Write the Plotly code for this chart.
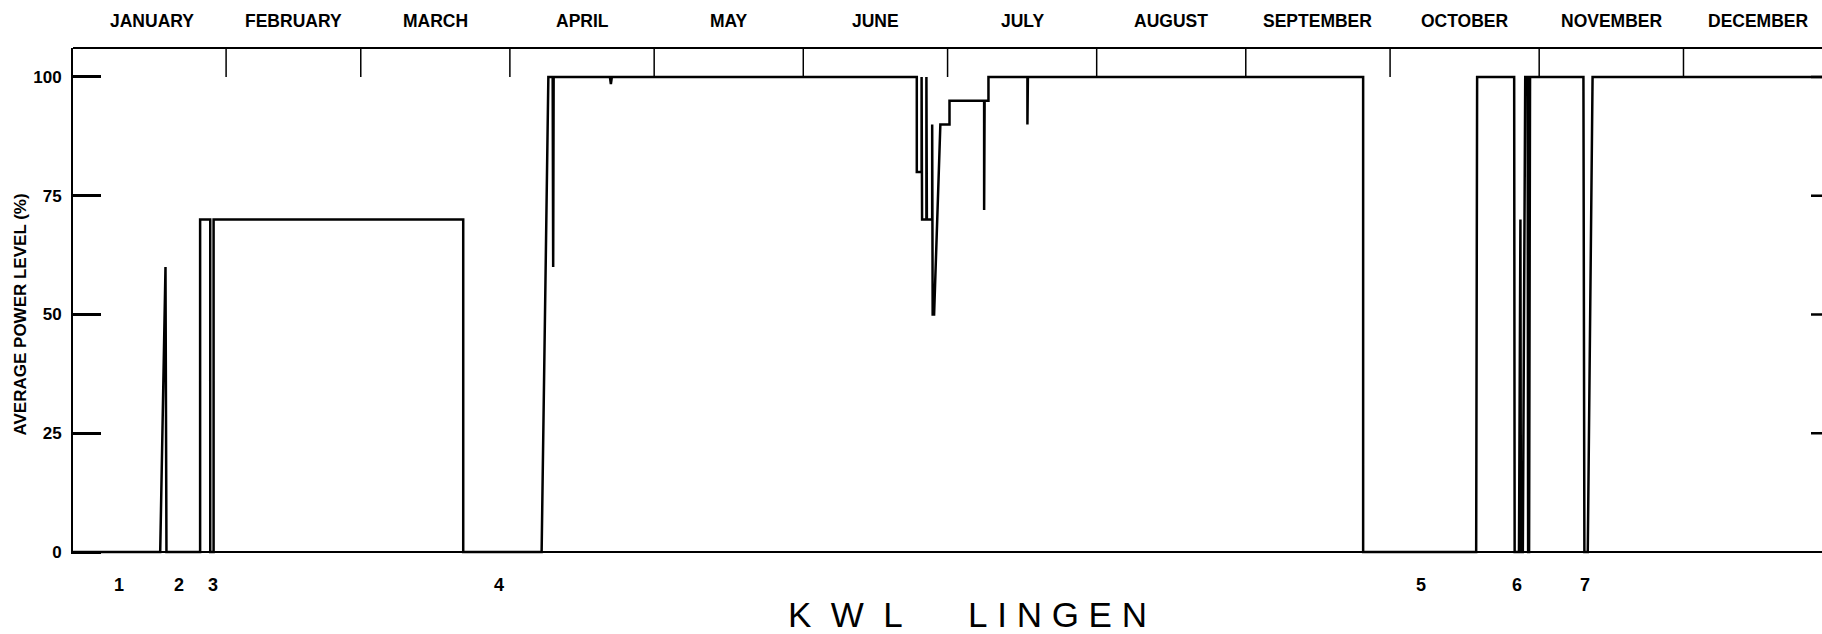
import plotly.graph_objects as go

# Monthly calendar (day-of-year at which each month begins)
month_names = ["JANUARY", "FEBRUARY", "MARCH", "APRIL", "MAY", "JUNE", "JULY",
               "AUGUST", "SEPTEMBER", "OCTOBER", "NOVEMBER", "DECEMBER"]
month_starts = [0, 31, 59, 90, 120, 151, 181, 212, 243, 273, 304, 334, 365]

# Average power level (%) against day of year, as break points of the trace
days = [-0.8, 17.3, 18.4, 18.6, 25.6, 25.6, 27.7, 27.7, 28.4, 28.4, 80.3, 80.3,
        96.6, 98.0, 98.9, 99.0, 99.1, 110.8, 111.0, 111.2,
        174.6, 174.6, 175.6, 175.6, 175.7, 176.6, 176.6, 176.7, 177.8, 177.8,
        177.9, 178.2, 179.5, 181.4, 181.4, 188.6, 188.6, 188.7, 189.5, 189.5,
        197.6, 197.6, 197.7, 267.4, 267.4, 290.9, 291.1,
        298.8, 298.9, 299.8, 300.1, 300.2, 300.6, 301.1, 301.6, 301.7, 301.9, 302.1,
        313.2, 313.4, 314.1, 315.1, 365.0]
power = [0, 0, 60, 0, 0, 70, 70, 0, 0, 70, 70, 0,
         0, 100, 100, 60, 100, 100, 98.5, 100,
         100, 80, 80, 100, 70, 70, 100, 70, 70, 90,
         50, 50, 90, 90, 95, 95, 72, 95, 95, 100,
         100, 90, 100, 100, 0, 0, 100,
         100, 0, 0, 70, 0, 0, 100, 100, 0, 0, 100,
         100, 0, 0, 100, 100]

# Numbered outage events marked below the time axis
event_labels = ["1", "2", "3", "4", "5", "6", "7"]
event_days = [8.7, 21.2, 28.2, 87.8, 279.4, 299.4, 313.5]

y_ticks = [0, 25, 50, 75, 100]

X_RANGE = [-0.83, 362.8]
Y_RANGE = [-0.42, 106.1]
FONT = "Liberation Sans, Arial, sans-serif"
PLOT_W = 1822 - 73

fig = go.Figure()
fig.add_trace(go.Scatter(x=days, y=power, mode="lines",
                         line=dict(color="black", width=2.5),
                         hoverinfo="skip", showlegend=False))

shapes = []
# frame: top edge and zero line
shapes.append(dict(type="line", xref="paper", yref="paper", x0=0, x1=1, y0=1, y1=1,
                   line=dict(color="black", width=2)))
shapes.append(dict(type="line", xref="paper", yref="y", x0=0, x1=1, y0=0, y1=0,
                   line=dict(color="black", width=2)))
# month boundary marks hanging from the top edge
for d in month_starts[1:-1]:
    shapes.append(dict(type="line", xref="x", yref="y", x0=d, x1=d, y0=100, y1=Y_RANGE[1],
                       line=dict(color="black", width=1.5)))
# inward ticks on the right-hand scale
for v in y_ticks[1:]:
    shapes.append(dict(type="line", xref="paper", yref="y", x0=1 - 11 / PLOT_W, x1=1,
                       y0=v, y1=v, line=dict(color="black", width=2.5)))

annotations = []
for i, name in enumerate(month_names):
    mid = (month_starts[i] + month_starts[i + 1]) / 2
    annotations.append(dict(text=name, x=mid, xref="x", y=1, yref="paper", yshift=27,
                            yanchor="middle", showarrow=False,
                            font=dict(family=FONT, size=17.5, color="black", weight="bold")))
for lab, d in zip(event_labels, event_days):
    annotations.append(dict(text=lab, x=d, xref="x", y=0, yref="paper", yshift=-31,
                            yanchor="middle", showarrow=False,
                            font=dict(family=FONT, size=18, color="black", weight="bold")))
annotations.append(dict(text="AVERAGE POWER LEVEL (%)", x=0, xref="paper", xshift=-53,
                        y=50, yref="y", textangle=-90, showarrow=False,
                        xanchor="center", yanchor="middle",
                        font=dict(family=FONT, size=17, color="black", weight="bold")))
annotations.append(dict(text="K\u00a0\u00a0W\u00a0\u00a0L", x=(845 - 73) / PLOT_W, xref="paper",
                        y=0, yref="paper", yshift=-60, yanchor="middle", showarrow=False,
                        font=dict(family=FONT, size=35, color="black")))
annotations.append(dict(text="L\u00a0I\u00a0N\u00a0G\u00a0E\u00a0N", x=(1057 - 73) / PLOT_W,
                        xref="paper", y=0, yref="paper", yshift=-60, yanchor="middle",
                        showarrow=False, font=dict(family=FONT, size=35, color="black")))

fig.update_layout(
    width=1822, height=634,
    margin=dict(l=73, r=0, t=48, b=80, pad=0),
    paper_bgcolor="white", plot_bgcolor="white",
    shapes=shapes, annotations=annotations,
    xaxis=dict(range=X_RANGE, showgrid=False, zeroline=False, showline=False,
               showticklabels=False, ticks=""),
    yaxis=dict(range=Y_RANGE, showgrid=False, zeroline=False, showline=True,
               linecolor="black", linewidth=2, ticks="inside", ticklen=28,
               tickwidth=2.5, tickcolor="black", tickvals=y_ticks,
               ticklabelstandoff=6,
               tickfont=dict(family=FONT, size=17, color="black", weight="bold")),
)

fig.write_html("out.html")
